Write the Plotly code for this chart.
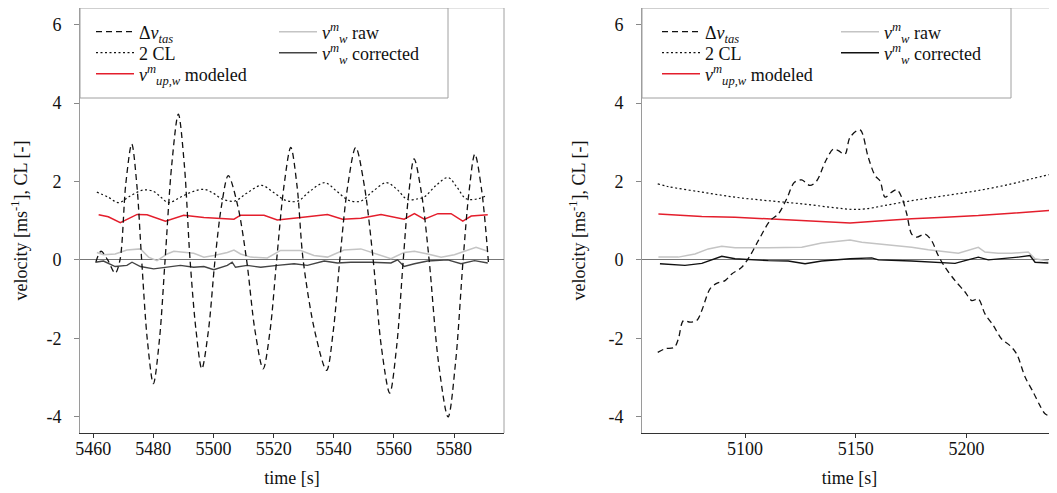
import plotly.graph_objects as go

# ---------------- data: left panel ----------------
t_dv_L = [5460.9, 5462.6, 5464.8, 5467.3, 5468.9, 5470.8, 5472.8, 5474.5, 5476.1, 5478.0, 5480.0,
          5482.0, 5483.9, 5486.1, 5488.3, 5490.3, 5492.2, 5494.2, 5496.1, 5498.3, 5500.5, 5502.7,
          5504.9, 5508.0, 5511.0, 5513.8, 5516.5, 5518.8, 5521.0, 5523.4, 5525.7, 5527.8, 5529.8,
          5533.7, 5537.6, 5539.8, 5542.0, 5544.6, 5547.3, 5550.2, 5553.1, 5555.8, 5558.6, 5560.9,
          5563.1, 5564.9, 5566.7, 5569.2, 5571.7, 5574.8, 5578.0, 5580.5, 5583.0, 5585.0, 5586.9,
          5589.2, 5591.5]
dv_L = [-0.05, 0.22, 0.0, -0.34, 0.0, 1.92, 2.96, 1.92, 0.0, -2.05, -3.16,
        -2.05, 0.0, 2.42, 3.72, 2.42, 0.0, -1.81, -2.78, -1.81, 0.0, 1.40,
        2.15, 1.40, 0.0, -1.81, -2.78, -1.81, 0.0, 1.87, 2.87, 1.87, 0.0,
        -1.83, -2.82, -1.83, 0.0, 1.87, 2.87, 1.87, 0.0, -2.21, -3.40, -2.21,
        0.0, 1.68, 2.58, 1.68, 0.0, -2.61, -4.01, -2.61, 0.0, 1.76, 2.70,
        1.76, -0.14]

t_cl_L = [5461.2, 5465.0, 5468.5, 5472.0, 5476.5, 5480.0, 5482.5, 5485.0, 5489.0, 5493.0, 5497.0,
          5500.0, 5503.0, 5507.0, 5511.0, 5516.0, 5520.0, 5524.0, 5528.0, 5532.0, 5537.0, 5541.0,
          5545.0, 5549.0, 5553.0, 5557.5, 5561.0, 5564.5, 5568.0, 5570.0, 5574.0, 5578.0, 5581.0,
          5584.0, 5588.0, 5591.0]
cl_L = [1.73, 1.60, 1.46, 1.62, 1.78, 1.75, 1.60, 1.46, 1.60, 1.74, 1.80,
        1.70, 1.55, 1.50, 1.70, 1.90, 1.72, 1.52, 1.50, 1.75, 1.97, 1.75,
        1.52, 1.50, 1.75, 1.97, 1.80, 1.54, 1.56, 1.60, 1.90, 2.10, 1.85,
        1.56, 1.56, 1.65]

t_mod_L = [5461.8, 5465.0, 5469.0, 5474.6, 5477.9, 5484.0, 5490.1, 5496.8, 5506.8, 5509.0, 5516.8,
           5521.2, 5529.0, 5537.9, 5542.9, 5549.0, 5555.7, 5563.4, 5566.8, 5570.1, 5574.6, 5579.0,
           5582.9, 5585.7, 5591.2]
mod_L = [1.15, 1.10, 0.95, 1.16, 1.15, 0.99, 1.14, 1.08, 1.04, 1.14, 1.14,
         1.02, 1.08, 1.16, 1.04, 1.06, 1.16, 1.04, 1.18, 1.04, 1.18, 1.18,
         0.99, 1.12, 1.15]

t_raw_L = [5461.2, 5463.4, 5467.3, 5471.2, 5475.7, 5478.4, 5481.2, 5484.6, 5486.8, 5493.4, 5496.8,
           5500.1, 5504.6, 5506.8, 5509.0, 5512.3, 5517.9, 5522.3, 5529.0, 5533.4, 5537.9, 5543.4,
           5549.0, 5554.6, 5559.0, 5563.4, 5566.8, 5571.2, 5575.7, 5580.1, 5583.4, 5587.3, 5591.2]
raw_L = [0.19, 0.13, 0.15, 0.25, 0.28, 0.07, -0.02, 0.15, 0.22, 0.17, 0.07,
         0.11, 0.19, 0.25, 0.15, 0.07, 0.05, 0.24, 0.24, 0.11, 0.07, 0.25,
         0.28, 0.15, 0.03, 0.19, 0.22, 0.15, 0.07, 0.13, 0.22, 0.32, 0.22]

t_cor_L = [5460.7, 5463.4, 5467.3, 5471.2, 5472.9, 5475.7, 5480.1, 5484.6, 5489.0, 5493.4, 5496.8,
           5500.1, 5504.6, 5506.2, 5507.3, 5511.2, 5515.7, 5521.2, 5526.8, 5531.2, 5536.8, 5541.2,
           5545.7, 5552.3, 5559.0, 5561.2, 5563.4, 5566.8, 5571.2, 5577.9, 5582.3, 5586.8, 5591.2]
cor_L = [-0.06, -0.03, -0.17, -0.14, -0.06, -0.17, -0.23, -0.19, -0.14, -0.19, -0.17,
         -0.25, -0.14, -0.06, -0.19, -0.14, -0.19, -0.14, -0.10, -0.14, -0.03, -0.08,
         -0.06, -0.06, -0.08, 0.0, -0.17, -0.10, -0.03, 0.0, -0.10, -0.02, -0.08]

# ---------------- data: right panel ----------------
t_dv_R = [5060.6, 5063.9, 5068.1, 5069.9, 5072.2, 5075.2, 5078.2, 5080.5, 5084.2, 5087.2, 5091.0,
          5094.0, 5098.5, 5102.3, 5106.0, 5111.3, 5115.0, 5118.8, 5122.3, 5125.6, 5129.3, 5132.4,
          5136.1, 5139.9, 5142.1, 5145.1, 5147.4, 5151.9, 5155.6, 5158.7, 5160.9, 5163.2, 5166.2,
          5168.5, 5170.7, 5173.0, 5175.2, 5177.5, 5181.2, 5184.2, 5187.2, 5190.3, 5194.8, 5199.3,
          5202.3, 5205.3, 5208.3, 5212.1, 5215.8, 5219.6, 5222.6, 5226.4, 5230.1, 5233.1, 5235.4,
          5238.4]
dv_R = [-2.36, -2.27, -2.23, -2.02, -1.55, -1.59, -1.55, -1.29, -0.74, -0.60, -0.53,
        -0.36, -0.19, 0.11, 0.49, 1.00, 1.17, 1.56, 1.98, 2.04, 1.90, 2.02,
        2.49, 2.83, 2.79, 2.70, 3.13, 3.32, 2.62, 2.15, 2.02, 1.60, 1.73,
        1.79, 1.60, 1.17, 0.66, 0.58, 0.66, 0.49, 0.11, -0.19, -0.53, -0.82,
        -1.04, -1.00, -1.38, -1.68, -2.02, -2.19, -2.40, -2.99, -3.38, -3.72, -3.93,
        -4.01]

t_cl_R = [5060.6, 5065.4, 5080.5, 5095.5, 5110.5, 5125.6, 5140.6, 5148.0, 5154.2, 5163.2, 5175.2,
          5190.3, 5205.3, 5220.3, 5229.4, 5237.6]
cl_R = [1.94, 1.87, 1.73, 1.60, 1.51, 1.43, 1.33, 1.29, 1.30, 1.39, 1.51,
        1.64, 1.77, 1.94, 2.07, 2.18]

t_mod_R = [5060.9, 5080.5, 5095.5, 5110.5, 5125.6, 5140.6, 5147.4, 5160.2, 5175.2, 5190.3, 5205.3,
           5220.3, 5237.6]
mod_R = [1.17, 1.11, 1.09, 1.05, 1.00, 0.96, 0.94, 0.99, 1.05, 1.09, 1.13,
         1.19, 1.26]

t_raw_R = [5060.9, 5069.9, 5077.4, 5083.4, 5089.5, 5095.5, 5110.5, 5125.6, 5134.6, 5143.6, 5147.4,
           5152.7, 5160.2, 5167.7, 5175.2, 5182.7, 5190.3, 5196.3, 5205.3, 5208.3, 5214.3, 5220.3,
           5227.8, 5230.9, 5236.9]
raw_R = [0.07, 0.07, 0.15, 0.28, 0.35, 0.31, 0.31, 0.32, 0.43, 0.49, 0.51,
         0.45, 0.41, 0.37, 0.32, 0.26, 0.22, 0.17, 0.32, 0.20, 0.17, 0.17,
         0.20, 0.03, -0.03]

t_cor_R = [5061.6, 5072.9, 5080.5, 5089.5, 5095.5, 5103.0, 5110.5, 5119.5, 5127.1, 5134.6, 5143.6,
           5147.4, 5157.2, 5160.2, 5175.2, 5187.2, 5194.8, 5199.3, 5205.3, 5209.8, 5217.3, 5223.3,
           5228.6, 5230.9, 5236.9]
cor_R = [-0.10, -0.14, -0.09, 0.09, 0.03, 0.0, -0.02, -0.03, -0.10, -0.03, 0.02,
         0.03, 0.05, 0.0, -0.03, -0.06, -0.09, -0.02, 0.07, 0.0, 0.03, 0.07,
         0.11, -0.06, -0.08]

# ---------------- labels / ticks ----------------
name_dv = "Δ<i>v</i><sub><i>tas</i></sub>"
name_cl = "2 CL"
name_mod = "<i>v</i><sup><i>m</i></sup><sub><i>up,w</i></sub> modeled"
name_raw = "<i>v</i><sup><i>m</i></sup><sub><i>w</i></sub> raw"
name_cor = "<i>v</i><sup><i>m</i></sup><sub><i>w</i></sub> corrected"
xticks_L = [5460, 5480, 5500, 5520, 5540, 5560, 5580]
xticks_R = [5100, 5150, 5200]
yticks = [6, 4, 2, 0, -2, -4]
yticklabels = ["6", "4", "2", "0", "-2", "-4"]
xtitle = "time [s]"
ytitle = "velocity [ms<sup>-1</sup>], CL [-]"

FONT = "Liberation Serif"
OFF = 8                      # page body margin of the html page
W, H = 1057 - OFF, 493 - OFF
MT, MB = 0, 60
PH = H - MT - MB

fig = go.Figure()
legends = {}
leg_count = [0]


def px_x(p):                 # p: screen pixel -> paper fraction
    return (p - OFF) / W


def px_y(p):
    return 1 - (p - OFF - MT) / PH


def new_legend(sample_x, row_y):
    leg_count[0] += 1
    lid = "legend" if leg_count[0] == 1 else "legend%d" % leg_count[0]
    legends[lid] = dict(x=px_x(sample_x - 1), y=px_y(row_y), xanchor="left", yanchor="middle",
                        orientation="v", bgcolor="rgba(0,0,0,0)", borderwidth=0, itemwidth=38,
                        font=dict(size=18, family=FONT, color="#111"), itemclick=False)
    return lid


def add_panel(xa, ya, c1, c2, rows, t_dv, dv, t_cl, cl, t_mod, mod, t_raw, raw, t_cor, cor, cor_color):
    common = dict(xaxis=xa, yaxis=ya, mode="lines", hoverinfo="skip", showlegend=True)
    fig.add_trace(go.Scatter(x=t_raw, y=raw, name=name_raw, legend=new_legend(c2, rows[0]),
                             line=dict(color="#c4c4c4", width=1.5), **common))
    fig.add_trace(go.Scatter(x=t_cor, y=cor, name=name_cor, legend=new_legend(c2, rows[1]),
                             line=dict(color=cor_color, width=1.4), **common))
    fig.add_trace(go.Scatter(x=t_cl, y=cl, name=name_cl, legend=new_legend(c1, rows[1]),
                             line=dict(color="#111111", width=1.2, dash="2px,2.5px", shape="spline"), **common))
    fig.add_trace(go.Scatter(x=t_mod, y=mod, name=name_mod, legend=new_legend(c1, rows[2]),
                             line=dict(color="#e41e2c", width=1.5), **common))
    fig.add_trace(go.Scatter(x=t_dv, y=dv, name=name_dv, legend=new_legend(c1, rows[0]),
                             line=dict(color="#111111", width=1.3, dash="6px,4px", shape="spline",
                                       smoothing=0.9), **common))


add_panel("x", "y", 92, 275, [32, 53, 74], t_dv_L, dv_L, t_cl_L, cl_L, t_mod_L, mod_L,
          t_raw_L, raw_L, t_cor_L, cor_L, "#444444")
add_panel("x2", "y2", 658, 837, [32, 53, 74], t_dv_R, dv_R, t_cl_R, cl_R, t_mod_R, mod_R,
          t_raw_R, raw_R, t_cor_R, cor_R, "#111111")

dom_L = [px_x(80), px_x(504)]
dom_R = [px_x(642), 1.0]

xax = dict(showgrid=False, zeroline=False, showline=True, linecolor="#333333", linewidth=1,
           ticks="outside", ticklen=4, tickcolor="#333333", automargin=False,
           tickfont=dict(size=18, family=FONT, color="#111"),
           title=dict(text=xtitle, font=dict(size=18, family=FONT, color="#111"), standoff=13),
           ticklabelstandoff=-5)
yax = dict(showgrid=False, range=[-4.42, 6.43], zeroline=True, zerolinecolor="#777777", zerolinewidth=1,
           showline=True, linecolor="#9a9a9a", linewidth=1, ticks="outside", ticklen=5, tickcolor="#888888",
           tickvals=yticks, ticktext=yticklabels, automargin=False,
           tickfont=dict(size=18, family=FONT, color="#111"),
           title=dict(text=ytitle, font=dict(size=18, family=FONT, color="#111"), standoff=18),
           ticklabelstandoff=9, domain=[0, 1])

fig.update_layout(
    template="none",
    width=W, height=H,
    margin=dict(l=0, r=0, t=MT, b=MB, autoexpand=False),
    paper_bgcolor="white", plot_bgcolor="white",
    font=dict(family=FONT, size=18, color="#111"),
    xaxis=dict(domain=dom_L, range=[5455.6, 5596.6], tickvals=xticks_L, anchor="y", **xax),
    yaxis=dict(anchor="x", **yax),
    xaxis2=dict(domain=dom_R, range=[5053.5, 5240.8], tickvals=xticks_R, anchor="y2", **xax),
    yaxis2=dict(anchor="x2", **yax),
    showlegend=True,
    **legends,
)

# frame lines (top, right) and legend boxes
shapes = []
for xr, yr, box_right in [("x domain", "y domain", 368 / 424), ("x2 domain", "y2 domain", 369 / 415)]:
    shapes.append(dict(type="line", xref=xr, yref=yr, x0=0, x1=1, y0=1, y1=1,
                       line=dict(color="#c8c8c8", width=1), layer="below"))
    shapes.append(dict(type="line", xref=xr, yref=yr, x0=1, x1=1, y0=0, y1=1,
                       line=dict(color="#a0a0a0", width=1), layer="below"))
    shapes.append(dict(type="rect", xref=xr, yref=yr, x0=0, x1=box_right, y0=1 - (98 - OFF - MT) / PH, y1=1,
                       line=dict(color="#a0a0a0", width=1), fillcolor="white", layer="above"))
fig.update_layout(shapes=shapes)

fig.write_html("out.html")
